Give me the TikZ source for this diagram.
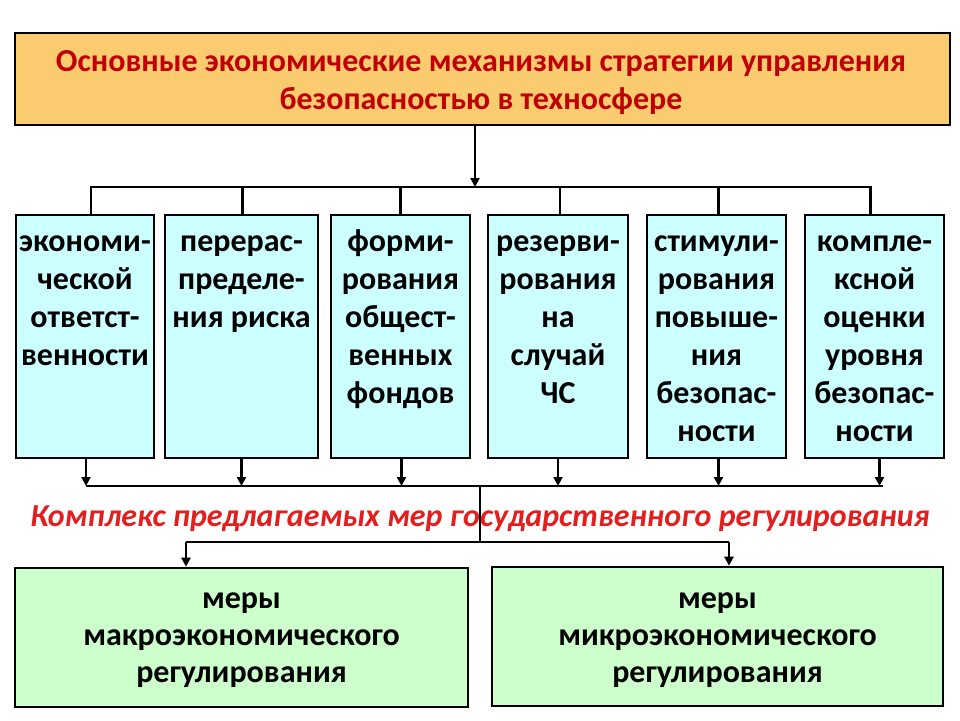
\documentclass[tikz,border=0pt]{standalone}
\usepackage{fontspec}
\setmainfont{Carlito}
\usetikzlibrary{arrows.meta}
\definecolor{titlefill}{RGB}{251,203,112}
\definecolor{titlered}{RGB}{192,0,0}
\definecolor{boxblue}{RGB}{204,255,255}
\definecolor{boxgreen}{RGB}{204,255,204}
\definecolor{midred}{RGB}{226,30,30}
\newcommand\ftop{\rule{0pt}{26pt}}
\begin{document}
\begin{tikzpicture}[x=1pt,y=-1pt,
  frame/.style={draw=black, line width=2.6pt, inner sep=0pt},
  bluebox/.style={frame, fill=boxblue, minimum height=243pt, minimum width=#1},
  greenbox/.style={frame, fill=boxgreen, minimum height=139pt, minimum width=#1},
  btxt/.style={anchor=north, inner xsep=0pt, inner ysep=12pt, align=center,
     font=\fontsize{32}{38}\selectfont\bfseries},
  gtxt/.style={align=center, font=\fontsize{32}{37}\selectfont\bfseries},
  conn/.style={line width=2.6pt},
  arr/.style={line width=2.6pt, -{Triangle[length=9pt,width=9pt]}}
]
\useasboundingbox (0,0) rectangle (960,720);
% title
\node[frame, fill=titlefill, minimum width=935pt, minimum height=92pt] (T) at (482.5,79) {};
\node[align=center, text=titlered, font=\fontsize{32}{38}\selectfont\bfseries]
  (Tt) at (481,83) {Основные экономические механизмы стратегии управления\\безопасностью в техносфере};
% blue boxes
\node[bluebox=138pt] (b1) at (85,336.5) {};
\node[bluebox=153pt] (b2) at (241.5,336.5) {};
\node[bluebox=139pt] (b3) at (400.5,336.5) {};
\node[bluebox=140pt] (b4) at (558,336.5) {};
\node[bluebox=139pt] (b5) at (716.5,336.5) {};
\node[bluebox=139pt] (b6) at (874.5,336.5) {};
\node[btxt] (t1) at (b1.north) {\ftop экономи-\\ческой\\ответст-\\венности};
\node[btxt] (t2) at (b2.north) {\ftop перерас-\\пределе-\\ния риска};
\node[btxt] (t3) at (b3.north) {\ftop форми-\\рования\\общест-\\венных\\фондов};
\node[btxt] (t4) at (b4.north) {\ftop резерви-\\рования\\на\\случай\\ЧС};
\node[btxt] (t5) at (b5.north) {\ftop стимули-\\рования\\повыше-\\ния\\безопас-\\ности};
\node[btxt] (t6) at (b6.north) {\ftop компле-\\ксной\\оценки\\уровня\\безопас-\\ности};
% top bus
\coordinate (j1) at (475,187);
\draw[arr] (T.south -| j1) -- (j1);
\draw[conn] ([xshift=6pt]b1.north) |- (j1) -| ([xshift=-4pt]b6.north);
\foreach \b/\s in {b2/1,b3/0,b4/2,b5/2} \draw[conn] ([xshift=\s pt]\b.north) -- ([xshift=\s pt]\b.north |- j1);
% bottom bus
\coordinate (j2) at (480,486);
\foreach \b/\s in {b1/1,b2/0,b3/1,b4/0,b5/2,b6/5} \draw[arr] ([xshift=\s pt]\b.south) -- ([xshift=\s pt]\b.south |- j2);
\draw[conn] ([xshift=1pt]b1.south |- j2) -- ([xshift=8pt]b6.south |- j2);
\coordinate (j3) at (480,542);
\draw[conn] (j2) -- (j3);
% green boxes
\node[greenbox=453pt] (g1) at (241.5,637.5) {};
\node[greenbox=451pt] (g2) at (717.5,636.5) {};
\node[gtxt] (g1t) at (241.5,640) {меры\\макроэкономического\\регулирования};
\node[gtxt] (g2t) at (717.5,640) {меры\\микроэкономического\\регулирования};
\coordinate (k1) at (186,542);
\coordinate (k2) at (729,542);
\draw[conn] (k1) -- (k2);
\draw[arr] (k1) -- (k1 |- g1.north);
\draw[arr] (k2) -- (k2 |- g2.north);
% middle label
\node[text=midred, font=\fontsize{32}{36}\selectfont\bfseries\itshape] (M) at (480,519)
  {Комплекс предлагаемых мер государственного регулирования};
\end{tikzpicture}
\end{document}
